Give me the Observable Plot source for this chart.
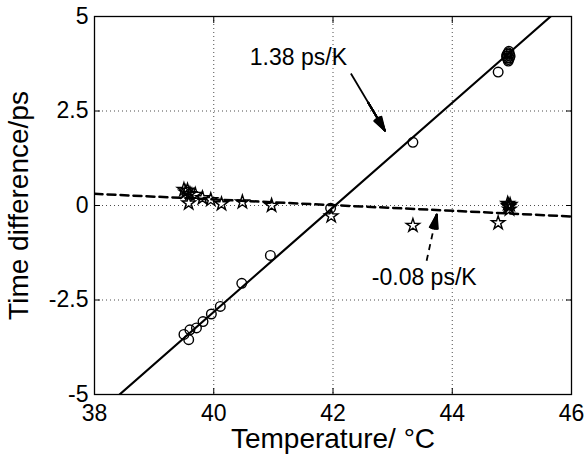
<!DOCTYPE html>
<html><head><meta charset="utf-8">
<script src="https://cdn.jsdelivr.net/npm/d3@7"></script>
<script src="https://cdn.jsdelivr.net/npm/@observablehq/plot@0.6"></script>
<style>html,body{margin:0;padding:0;background:#fff}</style>
</head><body><div id="chart"></div>
<script>
// Tick values
const xTicks = [38, 40, 42, 44, 46];
const yTicks = [-5, -2.5, 0, 2.5, 5];
const xGrid = [40, 42, 44];
const yGrid = [-2.5, 0, 2.5];

// Series 1: circles (time difference vs temperature)
const circleT = [39.50, 39.58, 39.60, 39.71, 39.82, 39.96, 40.11, 40.47, 40.95, 41.96, 43.34, 44.77,
                 44.91, 44.97, 44.94, 44.94, 44.92, 44.96, 44.92, 44.96, 44.94, 44.95];
const circleD = [-3.41, -3.55, -3.29, -3.24, -3.07, -2.87, -2.67, -2.06, -1.32, -0.07, 1.67, 3.53,
                 3.95, 3.95, 3.86, 4.04, 3.90, 4.00, 4.00, 3.90, 3.82, 4.08];

// Series 2: stars
const starT = [39.50, 39.53, 39.56, 39.60, 39.58, 39.69, 39.81, 39.95, 40.13, 40.48, 40.97, 41.97, 43.34, 44.77,
               44.93, 44.95, 44.96, 44.94, 44.97];
const starD = [0.42, 0.35, 0.40, 0.31, 0.06, 0.29, 0.20, 0.15, 0.04, 0.09, 0.00, -0.28, -0.53, -0.46,
               0.05, -0.03, -0.10, 0.00, 0.02];

// Fitted lines (end points)
const fitSolidT = [38.42, 45.65];
const fitSolidD = [-5, 5];
const fitDashT = [38, 46];
const fitDashD = [0.31, -0.29];

// Annotations
const annText = ["1.38 ps/K", "-0.08 ps/K"];
const annT = [41.42, 43.53];
const annD = [3.90, -1.90];
const arrowT1 = [42.30, 43.57];
const arrowD1 = [3.49, -1.46];
const arrowT2 = [42.87, 43.74];
const arrowD2 = [1.98, -0.24];
const arrowDashed = [false, true];

const circles = circleT.map((t, i) => ({t, d: circleD[i]}));
const stars = starT.map((t, i) => ({t, d: starD[i]}));
const solidFit = fitSolidT.map((t, i) => ({t, d: fitSolidD[i]}));
const dashFit = fitDashT.map((t, i) => ({t, d: fitDashD[i]}));
const anns = annText.map((s, i) => ({s, t: annT[i], d: annD[i]}));
const arrows = arrowT1.map((t, i) => ({x1: t, y1: arrowD1[i], x2: arrowT2[i], y2: arrowD2[i], dashed: arrowDashed[i]}));

const FONT = "'Liberation Sans', Arial, Helvetica, sans-serif";
const fmt = d => String(d);

// Filled-looking arrow heads: several heads of increasing angle
const headMarks = [4, 10, 16, 22, 28, 34].map(a => Plot.arrow(arrows, {
  x1: "x1", y1: "y1", x2: "x2", y2: "y2",
  stroke: "black", strokeWidth: 1.8, headAngle: a, headLength: 12, insetStart: 34
}));

const chart = Plot.plot({
  width: 585,
  height: 459,
  marginLeft: 94,
  marginRight: 14,
  marginTop: 16,
  marginBottom: 65,
  style: {fontFamily: FONT, fontSize: "23px", color: "black", background: "white", overflow: "visible"},
  x: {domain: [38, 46]},
  y: {domain: [-5, 5]},
  marks: [
    Plot.gridX(xGrid, {stroke: "#000", strokeOpacity: 0.7, strokeDasharray: "1,3", strokeWidth: 1}),
    Plot.gridY(yGrid, {stroke: "#000", strokeOpacity: 0.7, strokeDasharray: "1,3", strokeWidth: 1}),
    Plot.line(solidFit, {x: "t", y: "d", stroke: "black", strokeWidth: 2.2, clip: true}),
    Plot.line(dashFit, {x: "t", y: "d", stroke: "black", strokeWidth: 2.5, strokeDasharray: "8,5", clip: true}),
    Plot.dot(circles, {x: "t", y: "d", r: 4.8, stroke: "black", strokeWidth: 1.4, fill: "none"}),
    Plot.dot(stars, {x: "t", y: "d", symbol: "star", r: 4.2, stroke: "black", strokeWidth: 1.4, fill: "none"}),
    Plot.text(anns, {x: "t", y: "d", text: "s", fontSize: 23, fill: "black"}),
    Plot.link(arrows.filter(a => !a.dashed), {x1: "x1", y1: "y1", x2: "x2", y2: "y2", stroke: "black", strokeWidth: 1.8}),
    Plot.link(arrows.filter(a => a.dashed), {x1: "x1", y1: "y1", x2: "x2", y2: "y2", stroke: "black", strokeWidth: 1.8, strokeDasharray: "6,5"}),
    ...headMarks,
    Plot.frame({stroke: "black", strokeWidth: 1.3}),
    Plot.axisX(xTicks, {anchor: "bottom", tickSize: -6, tickPadding: 16, tickFormat: fmt, label: null}),
    Plot.axisX(xTicks, {anchor: "top", tickSize: -6, tickFormat: () => "", label: null}),
    Plot.axisY(yTicks, {anchor: "left", tickSize: -6, tickPadding: 12, tickFormat: fmt, label: null}),
    Plot.axisY(yTicks, {anchor: "right", tickSize: -6, tickFormat: () => "", label: null}),
    Plot.text(["Temperature/ °C"], {frameAnchor: "bottom", textAnchor: "middle", lineAnchor: "middle", dy: 45, fontSize: 28, fill: "black"}),
    Plot.text(["Time difference/ps"], {frameAnchor: "left", textAnchor: "middle", lineAnchor: "middle", rotate: -90, dx: -75, fontSize: 28, fill: "black"})
  ]
});
document.getElementById("chart").appendChild(chart);
</script>
</body></html>
